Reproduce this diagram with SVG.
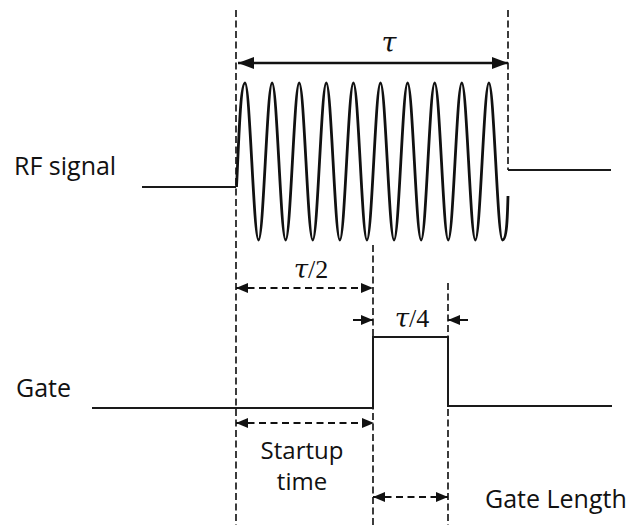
<svg xmlns="http://www.w3.org/2000/svg" width="635" height="525" viewBox="0 0 635 525">
<style>
.bg{fill:#fff}
.guide{stroke:#1a1a1a;stroke-width:1.7;stroke-dasharray:7 3.5;fill:none}
.sig{stroke:#1a1a1a;stroke-width:2;fill:none}
.wave{stroke:#111;stroke-width:2.8;fill:none;stroke-linejoin:round}
.dim{stroke:#111;stroke-width:2.2;fill:none;stroke-dasharray:7 4.5}
.dimsolid{stroke:#111;stroke-width:2.6;fill:none}
.lbl{font-family:"Open Sans","Liberation Sans",sans-serif;font-size:25px;fill:#111}
.math{font-family:"Liberation Serif","DejaVu Serif",serif;font-size:26px;fill:#111}
.it{font-family:"DejaVu Serif",serif;font-style:italic}
</style>
<defs>
<marker id="big" viewBox="0 0 16 12" markerWidth="16" markerHeight="12" refX="16" refY="6" orient="auto-start-reverse" markerUnits="userSpaceOnUse">
<path d="M0,0 L16,6 L0,12 z" fill="#111"/>
</marker>
<marker id="sm" viewBox="0 0 12 10" markerWidth="12" markerHeight="10" refX="12" refY="5" orient="auto-start-reverse" markerUnits="userSpaceOnUse">
<path d="M0,0 L12,5 L0,10 z" fill="#111"/>
</marker>
</defs>
<rect class="bg" x="0" y="0" width="635" height="525"/>

<g id="guides">
<line class="guide" x1="236" y1="10" x2="236" y2="525"/>
<line class="guide" x1="508" y1="10" x2="508" y2="170"/>
<line class="guide" x1="373" y1="245" x2="373" y2="525"/>
<line class="guide" x1="448" y1="283" x2="448" y2="525"/>
</g>

<g id="rf-signal">
<text class="lbl" x="14" y="175">RF signal</text>
<line class="sig" x1="142" y1="187" x2="236" y2="187"/>
<path class="wave" d="M236.5,187 C238.5,150 240.08,83 245,83 S253.63,240 258.55,240 S267.18,83 272.1,83 S280.73,240 285.65,240 S294.28,83 299.2,83 S307.83,240 312.75,240 S321.38,83 326.3,83 S334.93,240 339.85,240 S348.48,83 353.4,83 S362.03,240 366.95,240 S375.58,83 380.5,83 S389.13,240 394.05,240 S402.68,83 407.6,83 S416.23,240 421.15,240 S429.78,83 434.7,83 S443.33,240 448.25,240 S456.88,83 461.8,83 S470.43,240 475.35,240 S483.98,83 488.9,83 S497.53,240 502.45,240 S507.5,210 508,196"/>
<line class="sig" x1="508" y1="170" x2="611" y2="170"/>
</g>

<g id="gate">
<text class="lbl" x="16" y="397">Gate</text>
<path class="sig" d="M92,408 L373,408 L373,337 L448,337 L448,406 L612,406"/>
</g>

<g id="connectors">
<line class="dimsolid" x1="238" y1="63" x2="508" y2="63" marker-start="url(#big)" marker-end="url(#big)"/>
<line class="dim" x1="236" y1="288" x2="373" y2="288" marker-start="url(#sm)" marker-end="url(#sm)"/>
<line class="dimsolid" style="stroke-width:2" x1="353" y1="320" x2="373" y2="320" marker-end="url(#sm)"/>
<line class="dimsolid" style="stroke-width:2" x1="468" y1="320" x2="448" y2="320" marker-end="url(#sm)"/>
<line class="dim" x1="236" y1="423" x2="374" y2="423" marker-start="url(#sm)" marker-end="url(#sm)"/>
<line class="dim" x1="373" y1="497" x2="448" y2="497" marker-start="url(#sm)" marker-end="url(#sm)"/>
</g>

<g id="labels">
<text class="math it" x="389" y="52" text-anchor="middle" style="font-size:27px">τ</text>
<text class="math" x="311" y="278" text-anchor="middle"><tspan class="it">τ</tspan>/2</text>
<text class="math" x="412" y="327" text-anchor="middle"><tspan class="it">τ</tspan>/4</text>
<text class="lbl" x="302" y="459" text-anchor="middle" style="font-size:24px">Startup</text>
<text class="lbl" x="302" y="490" text-anchor="middle" style="font-size:24px">time</text>
<text class="lbl" x="485" y="508">Gate Length</text>
</g>
</svg>
